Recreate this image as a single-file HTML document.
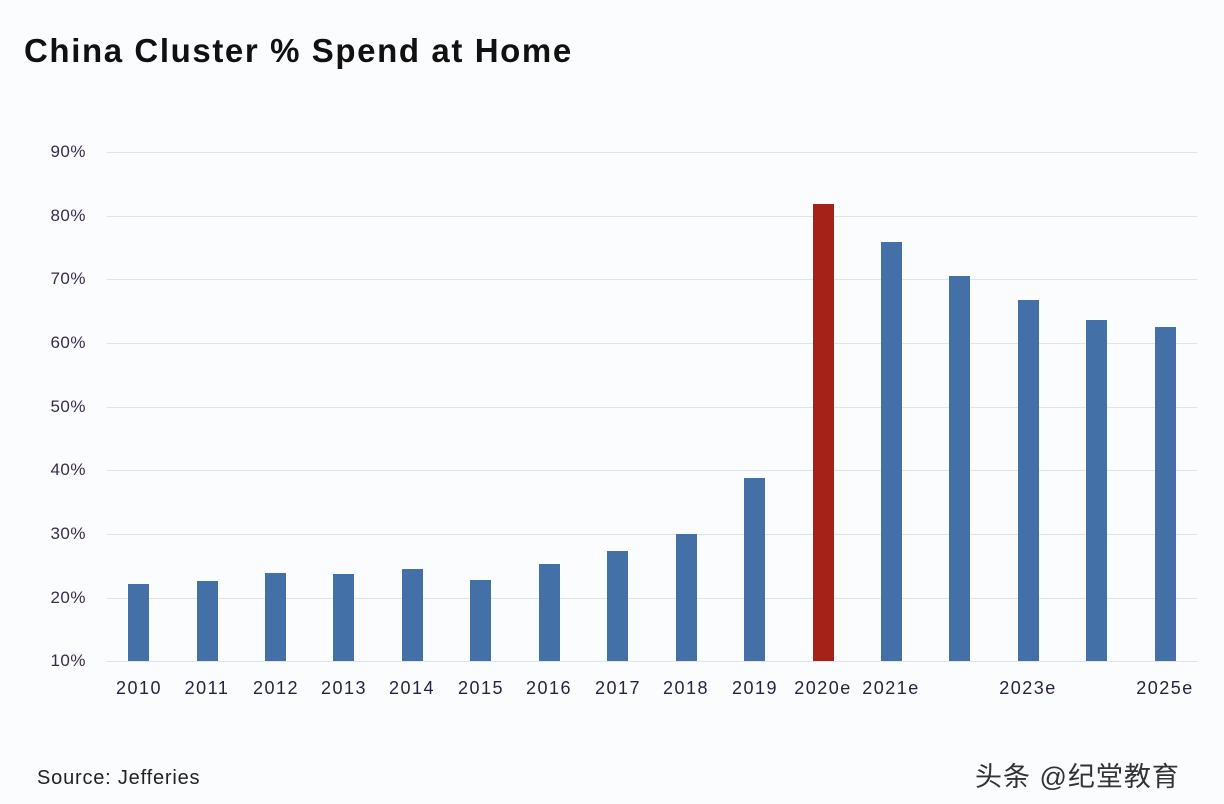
<!DOCTYPE html>
<html><head><meta charset="utf-8"><style>
body{margin:0;width:1224px;height:804px;background:#fbfcfe;position:relative;overflow:hidden;font-family:"Liberation Sans","Noto Sans CJK SC",sans-serif}
.t{position:absolute;left:24px;top:32px;font-size:33px;font-weight:bold;color:#111;letter-spacing:1.6px}
.g{position:absolute;left:107px;width:1090px;height:1px;background:#dfe4ec}
.yl{position:absolute;left:36px;width:50px;text-align:right;font-size:17px;color:#3a2a4a;letter-spacing:0.5px}
.b{position:absolute;width:21px;background:#4470a8;bottom:143px}
.xl{position:absolute;top:678px;width:90px;text-align:center;font-size:18px;color:#2a2040;letter-spacing:1.5px}
</style></head><body>
<div class="t">China Cluster % Spend at Home</div>
<div class="g" style="top:152px"></div><div class="g" style="top:216px"></div><div class="g" style="top:279px"></div><div class="g" style="top:343px"></div><div class="g" style="top:407px"></div><div class="g" style="top:470px"></div><div class="g" style="top:534px"></div><div class="g" style="top:598px"></div><div class="g" style="top:661px"></div>
<div class="yl" style="top:142px">90%</div><div class="yl" style="top:206px">80%</div><div class="yl" style="top:269px">70%</div><div class="yl" style="top:333px">60%</div><div class="yl" style="top:397px">50%</div><div class="yl" style="top:460px">40%</div><div class="yl" style="top:524px">30%</div><div class="yl" style="top:588px">20%</div><div class="yl" style="top:651px">10%</div>
<div class="b" style="left:128px;top:584px"></div>
<div class="b" style="left:197px;top:581px"></div>
<div class="b" style="left:265px;top:573px"></div>
<div class="b" style="left:333px;top:574px"></div>
<div class="b" style="left:402px;top:569px"></div>
<div class="b" style="left:470px;top:580px"></div>
<div class="b" style="left:539px;top:564px"></div>
<div class="b" style="left:607px;top:551px"></div>
<div class="b" style="left:676px;top:534px"></div>
<div class="b" style="left:744px;top:478px"></div>
<div class="b" style="left:813px;top:204px;background:#a52219"></div>
<div class="b" style="left:881px;top:242px"></div>
<div class="b" style="left:949px;top:276px"></div>
<div class="b" style="left:1018px;top:300px"></div>
<div class="b" style="left:1086px;top:320px"></div>
<div class="b" style="left:1155px;top:327px"></div>
<div class="xl" style="left:94px">2010</div><div class="xl" style="left:162px">2011</div><div class="xl" style="left:231px">2012</div><div class="xl" style="left:299px">2013</div><div class="xl" style="left:367px">2014</div><div class="xl" style="left:436px">2015</div><div class="xl" style="left:504px">2016</div><div class="xl" style="left:573px">2017</div><div class="xl" style="left:641px">2018</div><div class="xl" style="left:710px">2019</div><div class="xl" style="left:778px">2020e</div><div class="xl" style="left:846px">2021e</div><div class="xl" style="left:983px">2023e</div><div class="xl" style="left:1120px">2025e</div>
<div style="position:absolute;left:37px;top:767px;font-size:20px;color:#222;letter-spacing:0.8px">Source: Jefferies</div>
<div style="position:absolute;left:975px;top:755px;font-size:27px;color:#333;letter-spacing:1px">头条 @纪堂教育</div>
</body></html>
